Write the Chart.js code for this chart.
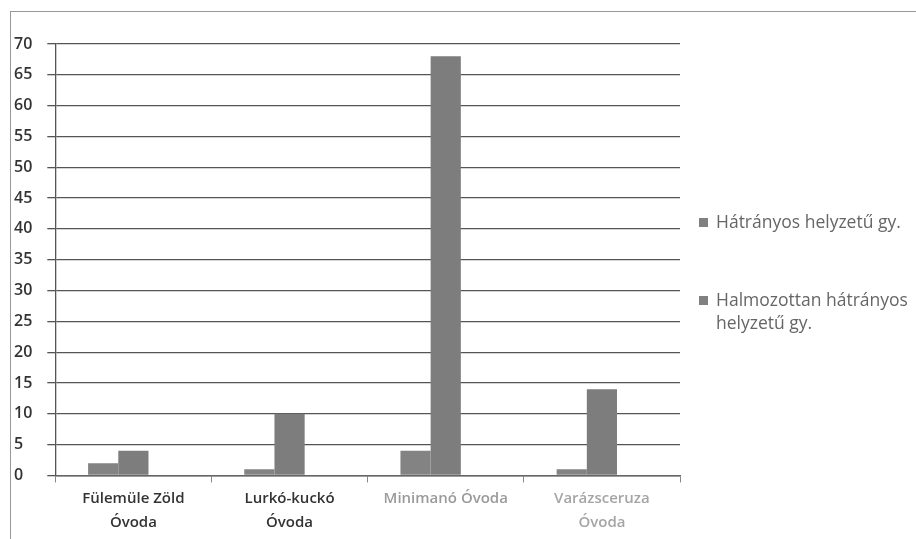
<!DOCTYPE html>
<html>
<head>
<meta charset="utf-8">
<script src="https://cdn.jsdelivr.net/npm/chart.js@4"></script>
<style>
  html, body { margin: 0; padding: 0; background: #fff; }
  body { width: 916px; height: 539px; position: relative; overflow: hidden; font-family: "Open Sans", "Liberation Sans", sans-serif; }
  #frame { position: absolute; left: 10px; top: 11px; width: 920px; height: 540px; border: 1px solid #999; box-sizing: border-box; }
  #wrap { position: absolute; left: 0; top: 0; width: 916px; height: 539px; }
  #legend { position: absolute; left: 699px; top: 210px; font-size: 17.5px; color: #666; line-height: 23px; white-space: nowrap; }
  #legend div { position: relative; padding-left: 17px; margin-bottom: 55px; }
  #legend span { position: absolute; left: 0; top: 8px; width: 9px; height: 9px; background: #808080; }
</style>
</head>
<body>
<div id="frame"></div>
<div id="wrap"><canvas id="chart"></canvas></div>
<div id="legend"></div>
<script>
/* ─── Data ─────────────────────────────────────── */
const categories = [
  ['Fülemüle Zöld', 'Óvoda'],
  ['Lurkó-kuckó', 'Óvoda'],
  'Minimanó Óvoda',
  ['Varázsceruza', 'Óvoda']
];
const seriesNames = ['Hátrányos helyzetű gy.', 'Halmozottan hátrányos helyzetű gy.'];
const hatranyos   = [2, 1, 4, 1];
const halmozottan = [4, 10, 68, 14];
const emptySeries = [null, null, null, null];   // third, empty column slot of the original
const yTicks      = [0, 5, 10, 15, 20, 25, 30, 35, 40, 45, 50, 55, 60, 65, 70];

const labelColors = ['#333', '#333', '#9a9a9a', '#a5a5a5'];

/* ─── Legend (html, wraps like the original) ───── */
const legendEl = document.getElementById('legend');
const legendText = ['Hátrányos helyzetű gy.', 'Halmozottan hátrányos<br>helyzetű gy.'];
legendText.forEach(t => {
  const d = document.createElement('div');
  d.innerHTML = '<span></span>' + t;
  legendEl.appendChild(d);
});

/* ─── Chart ────────────────────────────────────── */
new Chart(document.getElementById('chart'), {
  type: 'bar',
  data: {
    labels: categories,
    datasets: [
      { label: seriesNames[0], data: hatranyos,   backgroundColor: '#838383' },
      { label: seriesNames[1], data: halmozottan, backgroundColor: '#7d7d7d' },
      { label: '',             data: emptySeries, backgroundColor: '#7d7d7d' }
    ]
  },
  options: {
    responsive: true,
    maintainAspectRatio: false,
    animation: false,
    layout: { padding: { left: 14, top: 44, right: 236, bottom: 0 } },
    datasets: { bar: { categoryPercentage: 0.58, barPercentage: 1.0 } },
    scales: {
      x: {
        grid: { offset: true, drawOnChartArea: false, color: '#888', tickLength: 7 },
        border: { color: '#666', width: 1.5 },
        ticks: {
          color: ctx => labelColors[ctx.index],
          font: { family: '"Open Sans", sans-serif', size: 15, weight: '600', lineHeight: 1.55 },
          maxRotation: 0,
          padding: 5
        }
      },
      y: {
        min: 0, max: 70,
        afterBuildTicks: axis => { axis.ticks = yTicks.map(v => ({ value: v })); },
        grid: { color: '#555', lineWidth: 1.3, tickLength: 8 },
        border: { color: '#555', width: 1.3 },
        ticks: {
          color: '#333',
          font: { family: '"Open Sans", sans-serif', size: 16, weight: '600' },
          padding: 7.5,
          crossAlign: 'far'
        }
      }
    },
    plugins: {
      legend: { display: false },
      tooltip: { enabled: false }
    }
  }
});
</script>
</body>
</html>
